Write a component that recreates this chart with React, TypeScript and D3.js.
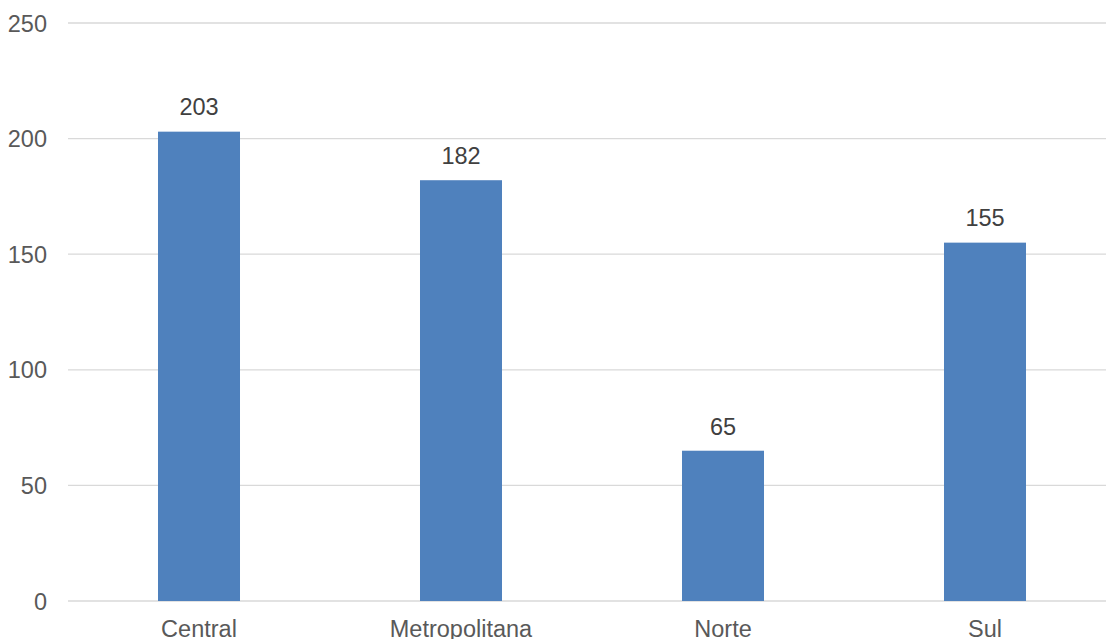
import React from "react";
import * as d3 from "d3";

const categories = ["Central", "Metropolitana", "Norte", "Sul"];
const values = [203, 182, 65, 155];
const yTicks = [0, 50, 100, 150, 200, 250];

export default function App() {
  const W = 1106;
  const H = 639;
  const x = d3
    .scaleBand<string>()
    .domain(categories)
    .range([68, 1116])
    .paddingInner(0.687)
    .paddingOuter(0.3435);
  const y = d3.scaleLinear().domain([0, 250]).range([601, 23]);
  const font = "Arial, 'Liberation Sans', sans-serif";
  const fs = 23.5;
  return (
    <svg
      width={W}
      height={H}
      style={{ position: "absolute", left: 0, top: 0, background: "#fff" }}
    >
      <rect x={0} y={0} width={W} height={H} fill="#fff" />
      {yTicks.map((t) => (
        <g key={t}>
          <line x1={68} x2={W} y1={y(t)} y2={y(t)} stroke="#D9D9D9" strokeWidth={1.3} />
          <text
            x={47}
            y={y(t) + 8.5}
            textAnchor="end"
            fontFamily={font}
            fontSize={fs}
            fill="#595959"
          >
            {t}
          </text>
        </g>
      ))}
      {categories.map((c, i) => (
        <g key={c}>
          <rect
            x={x(c)}
            y={y(values[i])}
            width={x.bandwidth()}
            height={y(0) - y(values[i])}
            fill="#4F81BD"
          />
          <text
            x={(x(c) as number) + x.bandwidth() / 2}
            y={y(values[i]) - 16.2}
            textAnchor="middle"
            fontFamily={font}
            fontSize={fs}
            fill="#404040"
          >
            {values[i]}
          </text>
          <text
            x={(x(c) as number) + x.bandwidth() / 2}
            y={637}
            textAnchor="middle"
            fontFamily={font}
            fontSize={fs}
            fill="#595959"
          >
            {c}
          </text>
        </g>
      ))}
    </svg>
  );
}
